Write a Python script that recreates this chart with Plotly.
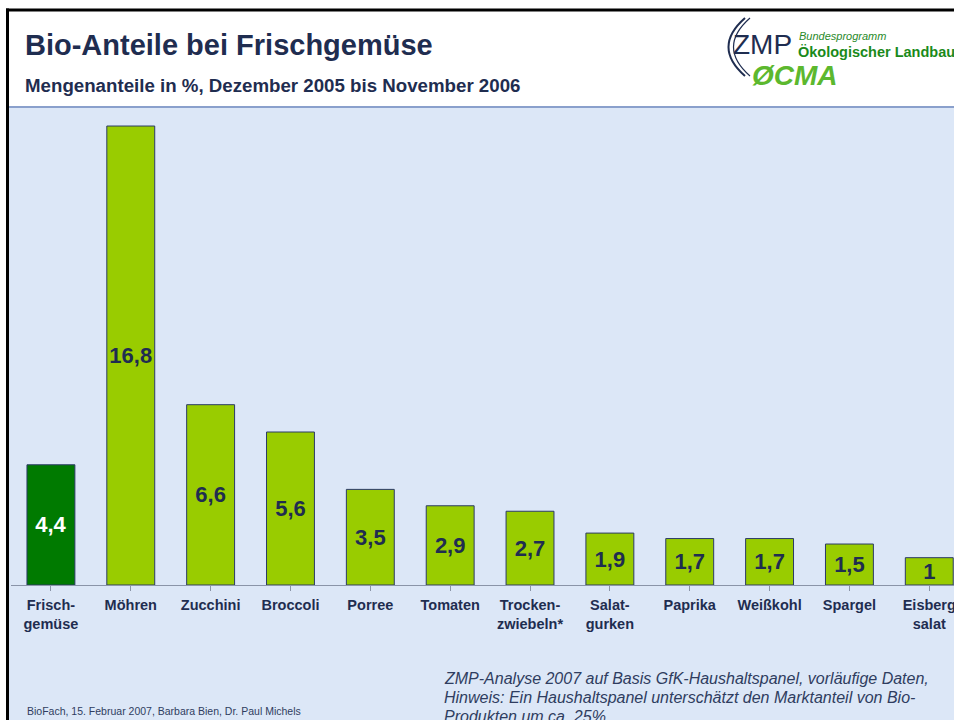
import plotly.graph_objects as go

categories = ["Frisch-<br>gemüse", "Möhren", "Zucchini", "Broccoli", "Porree", "Tomaten",
              "Trocken-<br>zwiebeln*", "Salat-<br>gurken", "Paprika", "Weißkohl", "Spargel", "Eisberg<br>salat"]
values = [4.4, 16.8, 6.6, 5.6, 3.5, 2.9, 2.7, 1.9, 1.7, 1.7, 1.5, 1]
bar_colors = ["#007a00"] + ["#99cc00"] * 11
label_colors = ["#ffffff"] + ["#1f2d50"] * 11

labels = [("%g" % v).replace(".", ",") for v in values]

note_lines = [
    "ZMP-Analyse 2007 auf Basis GfK-Haushaltspanel, vorläufige Daten,",
    "Hinweis: Ein Haushaltspanel unterschätzt den Marktanteil von Bio-",
    "Produkten um ca. 25%",
]

W, H = 954, 720
L, R_px, T, B = 11, 954, 109, 585


def xp(px):
    return (px - L) / (R_px - L)


def yp(py):
    return (B - py) / (B - T)


NAVY = "#1f2d50"
FONT = "Arial, Liberation Sans, sans-serif"

fig = go.Figure()
fig.add_trace(go.Bar(
    x=list(range(len(categories))),
    y=values,
    marker=dict(color=bar_colors, line=dict(color="#2b3a66", width=1)),
    text=labels,
    textposition="inside",
    insidetextanchor="middle",
    textangle=0,
    constraintext="none",
    textfont=dict(family=FONT, size=22, color=label_colors, weight="bold"),
    width=0.6,
    hoverinfo="skip",
))

shapes = []
shapes.append(dict(type="rect", xref="paper", yref="paper", layer="below",
                   x0=xp(8), x1=xp(W + 2), y0=yp(H + 2), y1=yp(107),
                   fillcolor="#dce7f7", line=dict(width=0)))
shapes.append(dict(type="line", xref="paper", yref="paper",
                   x0=xp(8), x1=xp(W + 2), y0=yp(107), y1=yp(107),
                   line=dict(color="#8aa0cc", width=2)))
shapes.append(dict(type="line", xref="paper", yref="paper",
                   x0=xp(6), x1=xp(W + 2), y0=yp(10), y1=yp(10),
                   line=dict(color="#000000", width=3)))
shapes.append(dict(type="line", xref="paper", yref="paper",
                   x0=xp(7.5), x1=xp(7.5), y0=yp(8.5), y1=yp(H + 2),
                   line=dict(color="#000000", width=3)))
for dx, wd in [(0, 2), (5, 1.2)]:
    path = "M %f,%f Q %f,%f %f,%f" % (xp(745 + dx), yp(18), xp(712 + dx), yp(47), xp(745 + dx), yp(76))
    shapes.append(dict(type="path", xref="paper", yref="paper", path=path,
                       line=dict(color=NAVY, width=wd)))

annotations = [
    dict(text="<b>Bio-Anteile bei Frischgemüse</b>", x=xp(23), y=yp(45), xanchor="left", yanchor="middle",
         font=dict(family=FONT, size=29, color=NAVY)),
    dict(text="<b>Mengenanteile in %, Dezember 2005 bis November 2006</b>", x=xp(23), y=yp(86),
         xanchor="left", yanchor="middle", font=dict(family=FONT, size=18.7, color=NAVY)),
    dict(text="ZMP", x=xp(731), y=yp(44), xanchor="left", yanchor="middle",
         font=dict(family=FONT, size=28, color=NAVY)),
    dict(text="<i>Bundesprogramm</i>", x=xp(797), y=yp(36), xanchor="left", yanchor="middle",
         font=dict(family=FONT, size=11, color="#2a8a2a")),
    dict(text="<b>Ökologischer Landbau</b>", x=xp(796), y=yp(52), xanchor="left", yanchor="middle",
         font=dict(family=FONT, size=14.5, color="#1a8a1a")),
    dict(text="<b><i>ØCMA</i></b>", x=xp(750), y=yp(75), xanchor="left", yanchor="middle",
         font=dict(family=FONT, size=28, color="#5cb82e")),
    dict(text="BioFach, 15. Februar 2007, Barbara Bien, Dr. Paul Michels", x=xp(25), y=yp(711),
         xanchor="left", yanchor="middle", font=dict(family=FONT, size=10.5, color="#2f3d60")),
]
for i, line in enumerate(note_lines):
    annotations.append(dict(text="<i>%s</i>" % line, x=xp(442), y=yp(678 + 19 * i),
                            xanchor="left", yanchor="middle", align="left",
                            font=dict(family=FONT, size=16, color="#2f3d60")))
for a in annotations:
    a.update(xref="paper", yref="paper", showarrow=False)

fig.update_layout(
    width=W, height=H,
    margin=dict(l=L, r=W - R_px, t=T, b=H - B, pad=0),
    paper_bgcolor="#ffffff",
    plot_bgcolor="#dce7f7",
    showlegend=False,
    shapes=shapes,
    annotations=annotations,
    xaxis=dict(
        range=[-0.5, -0.5 + (R_px - L) / 79.85],
        tickmode="array", tickvals=list(range(len(categories))), ticktext=categories,
        showline=True, linecolor="#8a94a8", linewidth=1,
        ticks="outside", ticklen=5, tickcolor="#8a94a8", tickson="boundaries",
        tickfont=dict(family=FONT, size=14.5, color=NAVY, weight="bold"),
        ticklabelstandoff=2, ticklabeloverflow="allow", automargin=False,
        showgrid=False, zeroline=False, fixedrange=True,
    ),
    yaxis=dict(range=[0, (B - T) / 27.32], visible=False, showgrid=False, fixedrange=True),
)

fig.write_html("out.html", config={"displayModeBar": False},
               post_script="document.body.style.margin='0';")
